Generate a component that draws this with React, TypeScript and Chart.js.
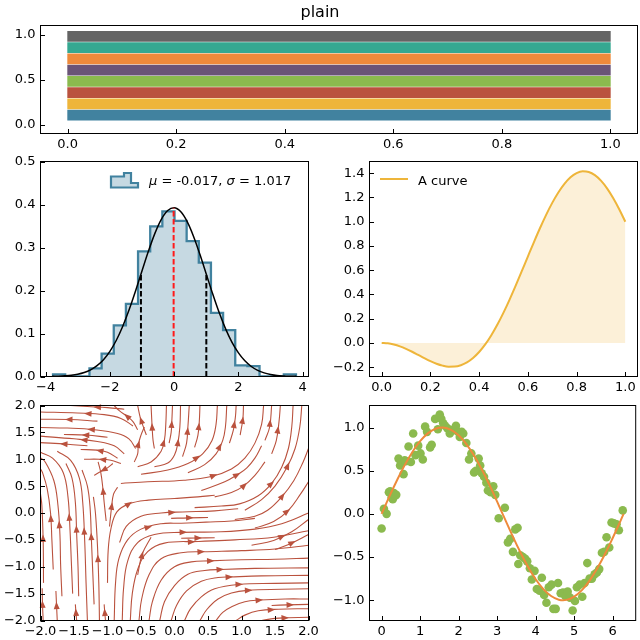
import React, { useEffect, useRef } from "react";
import { Chart, registerables } from "chart.js";

Chart.register(...registerables);

const FONT_FAMILY = "'DejaVu Sans', 'Liberation Sans', sans-serif";
const TEXT = "#000000";
const CANVAS = 640;
const Y_AXIS_W = 40;
const X_AXIS_H = 20;
const TICK_LEN = 4.5;

// colour cycle of the style
const BLUE = "#41829F";
const YELLOW = "#EEB53A";
const RED = "#BA523E";
const GREEN = "#8BBA4E";
const PURPLE = "#6A5477";
const ORANGE = "#EE8A3B";
const TEAL = "#35A891";
const GRAY = "#646464";

// ---- colour bars ----
const BAR_COLORS = [BLUE, YELLOW, RED, GREEN, PURPLE, ORANGE, TEAL, GRAY];
const BAR_POSITIONS = [0.105, 0.23, 0.355, 0.48, 0.605, 0.73, 0.855, 0.98];
const BAR_START = 0;
const BAR_END = 1;
const BAR_X_TICKS = [0, 0.2, 0.4, 0.6, 0.8, 1.0];
const BAR_Y_TICKS = [0, 0.5, 1.0];

// ---- histogram ----
const HIST_EDGES = [-3.77, -3.392, -3.014, -2.636, -2.258, -1.88, -1.502, -1.124, -0.746, -0.368, 0.01,
  0.388, 0.766, 1.144, 1.522, 1.9, 2.278, 2.656, 3.034, 3.412, 3.79];
const HIST_DENSITY = [0.005, 0, 0, 0.019, 0.053, 0.119, 0.169, 0.291, 0.349, 0.384, 0.362,
  0.315, 0.265, 0.148, 0.108, 0.026, 0.024, 0, 0, 0.005];
const MU = -0.017;
const SIGMA = 1.017;
const PDF_X = [-3.8, -3.6, -3.4, -3.2, -3.0, -2.8, -2.6, -2.4, -2.2, -2.0, -1.8, -1.6, -1.4, -1.2, -1.0,
  -0.8, -0.6, -0.4, -0.2, 0.0, 0.2, 0.4, 0.6, 0.8, 1.0, 1.2, 1.4, 1.6, 1.8, 2.0, 2.2, 2.4, 2.6, 2.8,
  3.0, 3.2, 3.4, 3.6, 3.8];
const PDF_Y = [0.0004, 0.0008, 0.0016, 0.0029, 0.0053, 0.0093, 0.0156, 0.0252, 0.0392, 0.0586, 0.0843,
  0.1168, 0.1556, 0.1994, 0.2459, 0.2917, 0.3329, 0.3655, 0.386, 0.3922, 0.3835, 0.3607, 0.3264, 0.2841,
  0.2379, 0.1917, 0.1486, 0.1108, 0.0795, 0.0549, 0.0365, 0.0233, 0.0143, 0.0085, 0.0048, 0.0023,
  0.0012, 0.0006, 0.0003];
const GUIDE_X = [MU - SIGMA, MU, MU + SIGMA];
const GUIDE_TOP = [0.2379, 0.3922, 0.2379];
const GUIDE_COLORS = ["#000000", "#FF1A1A", "#000000"];
const HIST_X_TICKS = [-4, -2, 0, 2, 4];
const HIST_Y_TICKS = [0, 0.1, 0.2, 0.3, 0.4, 0.5];

// ---- filled curve ----
const CURVE_X = [0, 0.025, 0.05, 0.075, 0.1, 0.125, 0.15, 0.175, 0.2, 0.225, 0.25, 0.275, 0.3, 0.325,
  0.35, 0.375, 0.4, 0.425, 0.45, 0.475, 0.5, 0.525, 0.55, 0.575, 0.6, 0.625, 0.65, 0.675, 0.7, 0.725,
  0.75, 0.775, 0.8, 0.825, 0.85, 0.875, 0.9, 0.925, 0.95, 0.975, 1.0];
const CURVE_Y = [0, -0.0033, -0.013, -0.0284, -0.0488, -0.0728, -0.0989, -0.1253, -0.1502, -0.1716,
  -0.1875, -0.196, -0.1953, -0.184, -0.1607, -0.1245, -0.0751, -0.0123, 0.0634, 0.1513, 0.25, 0.3577,
  0.4725, 0.5917, 0.7127, 0.8326, 0.9484, 1.0571, 1.1557, 1.2417, 1.3125, 1.3661, 1.4009, 1.4157,
  1.4102, 1.3843, 1.339, 1.2756, 1.1961, 1.1031, 1.0];
const CURVE_X_TICKS = [0, 0.2, 0.4, 0.6, 0.8, 1.0];
const CURVE_Y_TICKS = [-0.2, 0, 0.2, 0.4, 0.6, 0.8, 1.0, 1.2, 1.4];

// ---- stream lines (each listed along the flow direction) ----
const STREAMLINES: [number, number][][] = [
  // upper left, running to the left
  [[-0.75, 1.93], [-1.0, 1.96], [-1.3, 1.98], [-1.55, 2.0]],
  [[-0.62, 1.62], [-0.8, 1.76], [-1.05, 1.83], [-1.45, 1.86], [-2.0, 1.88]],
  [[-1.15, 1.71], [-1.57, 1.74], [-2.0, 1.745]],
  [[-0.58, 1.2], [-0.68, 1.38], [-0.85, 1.48], [-1.2, 1.55], [-1.6, 1.58], [-2.0, 1.59]],
  [[-1.0, 1.41], [-1.32, 1.45], [-1.65, 1.46]],
  [[-0.75, 1.1], [-0.9, 1.25], [-1.15, 1.33], [-1.5, 1.38], [-2.0, 1.43]],
  [[-1.3, 1.25], [-1.6, 1.28], [-2.0, 1.31]],
  [[-0.85, 1.02], [-1.0, 1.13], [-1.16, 1.17], [-1.4, 1.18]],
  [[-0.8, 0.92], [-0.95, 0.98], [-1.12, 1.0], [-1.35, 1.0]],
  [[-0.92, 0.92], [-1.0, 0.84], [-1.09, 0.78], [-1.2, 0.7]],
  // left side, rising and leaning left
  [[-1.96, -2.0], [-1.97, -1.7], [-1.975, -1.4]],
  [[-1.955, -1.3], [-1.96, -0.53], [-1.98, 0.15], [-2.0, 0.35]],
  [[-1.81, -1.05], [-1.83, -0.5], [-1.85, 0.0], [-1.9, 0.45], [-1.97, 0.75], [-2.0, 0.82]],
  [[-1.75, -2.0], [-1.76, -1.73], [-1.77, -1.45]],
  [[-1.68, -1.55], [-1.7, -0.95], [-1.71, -0.4], [-1.74, 0.15], [-1.8, 0.6], [-1.93, 0.95], [-2.0, 1.03]],
  [[-1.52, -1.5], [-1.54, -0.9], [-1.56, -0.3], [-1.59, 0.3], [-1.66, 0.75], [-1.82, 1.02], [-2.0, 1.13]],
  [[-1.46, -2.0], [-1.47, -1.86], [-1.48, -1.7]],
  [[-1.43, -1.55], [-1.44, -1.0], [-1.46, -0.4], [-1.48, 0.2], [-1.53, 0.65], [-1.62, 0.92]],
  [[-1.3, -2.0], [-1.32, -1.3], [-1.34, -0.53], [-1.37, 0.2], [-1.42, 0.65], [-1.55, 0.98], [-1.75, 1.15]],
  [[-1.2, -1.7], [-1.22, -1.1], [-1.24, -0.5], [-1.26, 0.1], [-1.3, 0.5], [-1.38, 0.8]],
  [[-1.12, -2.0], [-1.13, -1.3], [-1.15, -0.6], [-1.18, 0.0], [-1.21, 0.3]],
  [[-1.03, -2.0], [-1.04, -1.86], [-1.05, -1.7]],
  [[-1.02, -0.15], [-1.05, 0.2], [-1.07, 0.47], [-1.1, 0.75], [-1.14, 0.95]],
  // centre left, rising then turning right
  [[-0.97, -0.25], [-0.94, 0.1], [-0.91, 0.35], [-0.85, 0.48]],
  [[-1.0, -1.3], [-0.99, -0.7], [-0.95, -0.3], [-0.86, 0.02], [-0.68, 0.17], [-0.39, 0.24], [0.0, 0.27],
    [0.35, 0.3], [0.6, 0.33]],
  [[-0.82, -0.55], [-0.72, -0.25], [-0.5, -0.06], [-0.2, 0.0], [0.12, 0.02], [0.6, 0.04], [0.95, 0.08]],
  [[-0.05, -0.1], [0.21, -0.09], [0.5, -0.085]],
  // from the bottom edge, sweeping over to the right edge
  [[-0.9, -2.0], [-0.88, -1.3], [-0.83, -0.85], [-0.7, -0.5], [-0.5, -0.3], [-0.2, -0.2], [0.1, -0.19],
    [0.47, -0.17], [0.85, -0.15], [1.2, -0.1]],
  [[-0.78, -2.0], [-0.76, -1.4], [-0.7, -0.9], [-0.55, -0.55], [-0.3, -0.4], [0.1, -0.36], [0.69, -0.35],
    [1.2, -0.3], [1.6, -0.2], [2.0, 0.0]],
  [[-0.66, -2.0], [-0.63, -1.5], [-0.55, -1.05], [-0.4, -0.72], [-0.15, -0.56], [0.36, -0.53], [0.9, -0.5],
    [1.48, -0.45], [2.0, -0.33]],
  [[-0.53, -2.0], [-0.49, -1.6], [-0.38, -1.15], [-0.2, -0.85], [0.1, -0.74], [0.43, -0.72], [1.0, -0.7],
    [1.5, -0.67], [2.0, -0.6]],
  [[-0.38, -2.0], [-0.33, -1.65], [-0.2, -1.25], [0.0, -1.0], [0.25, -0.91], [0.52, -0.89], [1.0, -0.87],
    [1.5, -0.86], [2.0, -0.84]],
  [[-0.22, -2.0], [-0.15, -1.65], [0.0, -1.35], [0.2, -1.14], [0.45, -1.07], [0.69, -1.05], [1.2, -1.03],
    [2.0, -1.02]],
  [[-0.05, -2.0], [0.03, -1.72], [0.18, -1.45], [0.4, -1.27], [0.65, -1.2], [0.83, -1.19], [1.3, -1.17],
    [2.0, -1.16]],
  [[0.15, -2.0], [0.24, -1.78], [0.4, -1.56], [0.6, -1.41], [0.96, -1.33], [1.5, -1.31], [2.0, -1.3]],
  [[0.38, -2.0], [0.48, -1.8], [0.65, -1.6], [0.85, -1.49], [1.09, -1.44], [1.6, -1.42], [2.0, -1.41]],
  [[0.62, -2.0], [0.72, -1.85], [0.86, -1.74], [1.05, -1.65], [1.28, -1.62], [1.65, -1.6], [2.0, -1.6]],
  [[0.92, -2.0], [1.05, -1.9], [1.25, -1.82], [1.55, -1.79], [2.0, -1.78]],
  [[1.45, -1.72], [1.68, -1.71], [2.0, -1.7]],
  [[1.3, -2.0], [1.5, -1.96], [1.7, -1.95], [2.0, -1.94]],
  [[0.1, -0.47], [0.32, -0.465], [0.6, -0.46]],
  [[-0.55, -1.15], [-0.48, -0.76], [-0.35, -0.45]],
  // upper right, bending upwards
  [[-0.8, 0.55], [-0.4, 0.58], [0.14, 0.61], [0.55, 0.68], [0.85, 0.82], [1.05, 1.02], [1.2, 1.3],
    [1.3, 1.65], [1.33, 2.0]],
  [[-0.5, 0.72], [-0.1, 0.8], [0.2, 0.92], [0.42, 1.1], [0.56, 1.35], [0.62, 1.65], [0.64, 2.0]],
  [[-0.55, 0.86], [-0.35, 0.95], [-0.2, 1.15], [-0.15, 1.36], [-0.13, 1.65], [-0.12, 2.0]],
  [[-0.3, 0.86], [-0.1, 0.93], [0.0, 1.08], [0.05, 1.3], [0.08, 1.6], [0.09, 2.0]],
  [[-0.08, 1.3], [-0.05, 1.5], [-0.04, 1.7], [-0.03, 2.0]],
  [[0.12, 1.05], [0.18, 1.3], [0.2, 1.6], [0.22, 2.0]],
  [[0.3, 1.22], [0.35, 1.45], [0.37, 1.7], [0.38, 2.0]],
  [[0.2, 0.75], [0.45, 0.9], [0.62, 1.1], [0.72, 1.35], [0.76, 1.6], [0.78, 2.0]],
  [[0.82, 1.3], [0.88, 1.55], [0.91, 1.8], [0.92, 2.0]],
  [[0.4, 0.42], [0.75, 0.58], [0.95, 0.72], [1.08, 0.84], [1.2, 1.02], [1.3, 1.25]],
  [[0.98, 1.45], [1.02, 1.75], [1.03, 2.0]],
  [[1.35, 1.35], [1.42, 1.6], [1.45, 2.0]],
  [[1.45, 1.1], [1.52, 1.35], [1.56, 1.7], [1.58, 2.0]],
  [[0.3, 0.1], [0.7, 0.13], [0.97, 0.17], [1.25, 0.32], [1.45, 0.55], [1.6, 0.85], [1.7, 1.2], [1.75, 1.6],
    [1.77, 2.0]],
  [[0.6, 0.3], [0.85, 0.38], [1.03, 0.5], [1.2, 0.7], [1.35, 0.95]],
  [[1.05, 0.05], [1.3, 0.25], [1.5, 0.5], [1.68, 0.85], [1.8, 1.2], [1.87, 1.6], [1.9, 2.0]],
  [[0.9, -0.12], [1.2, -0.06], [1.39, 0.05], [1.6, 0.3], [1.78, 0.6], [1.92, 0.95], [2.0, 1.2]],
  [[1.2, -0.28], [1.48, -0.16], [1.7, 0.05], [1.88, 0.35], [2.0, 0.58]],
  [[1.15, -0.6], [1.48, -0.51], [1.75, -0.35], [2.0, -0.12]],
  [[1.5, -0.68], [1.73, -0.57], [2.0, -0.4]],
  // top middle
  [[-0.55, 1.55], [-0.62, 1.7], [-0.72, 1.81], [-0.82, 1.9], [-0.9, 2.0]],
  [[-0.42, 1.45], [-0.47, 1.62], [-0.51, 1.77], [-0.55, 2.0]],
  [[-0.3, 1.2], [-0.32, 1.35], [-0.33, 1.51], [-0.34, 1.75], [-0.35, 2.0]],
  [[-0.6, 0.95], [-0.55, 1.1], [-0.54, 1.27], [-0.5, 1.45], [-0.45, 1.6]],
];
const STREAM_TICKS = [-2, -1.5, -1, -0.5, 0, 0.5, 1, 1.5, 2];

// ---- noisy sine ----
const SCATTER_X = [0.0, 0.06, 0.13, 0.19, 0.22, 0.26, 0.29, 0.32, 0.35, 0.38, 0.44, 0.48, 0.51, 0.57, 0.6,
  0.63, 0.7, 0.76, 0.82, 0.88, 0.95, 1.01, 1.07, 1.13, 1.18, 1.26, 1.3, 1.39, 1.46, 1.51, 1.55, 1.6, 1.65,
  1.71, 1.77, 1.83, 1.89, 1.93, 1.99, 2.03, 2.08, 2.12, 2.2, 2.27, 2.33, 2.4, 2.45, 2.52, 2.56, 2.6, 2.66,
  2.72, 2.76, 2.83, 2.9, 2.95, 3.04, 3.2, 3.28, 3.34, 3.41, 3.47, 3.53, 3.55, 3.6, 3.67, 3.73, 3.78, 3.85,
  3.9, 3.97, 4.03, 4.1, 4.16, 4.22, 4.28, 4.34, 4.41, 4.46, 4.52, 4.58, 4.65, 4.71, 4.77, 4.83, 4.89, 4.96,
  5.02, 5.07, 5.14, 5.21, 5.27, 5.34, 5.4, 5.46, 5.53, 5.59, 5.65, 5.72, 5.78, 5.84, 5.91, 5.97, 6.03, 6.1,
  6.16, 6.26];
const SCATTER_Y = [-0.17, 0.06, 0.0, 0.25, 0.26, 0.19, 0.17, 0.24, 0.21, 0.22, 0.64, 0.56, 0.6, 0.46, 0.62,
  0.61, 0.78, 0.6, 0.93, 0.68, 0.79, 0.7, 0.63, 1.01, 0.95, 0.77, 0.8, 1.1, 0.98, 1.15, 1.1, 1.05, 1.02,
  0.99, 0.93, 0.97, 0.97, 1.02, 0.95, 0.89, 0.95, 0.93, 0.82, 0.63, 0.7, 0.48, 0.5, 0.64, 0.56, 0.47, 0.43,
  0.36, 0.27, 0.25, 0.32, 0.22, -0.05, 0.07, -0.33, -0.29, -0.44, -0.18, -0.16, -0.58, -0.48, -0.5, -0.52,
  -0.55, -0.63, -0.76, -0.66, -0.87, -0.89, -0.74, -0.94, -1.03, -0.85, -0.82, -1.1, -1.1, -0.8, -0.92,
  -0.91, -0.95, -0.9, -0.97, -1.12, -1.01, -0.85, -0.82, -0.96, -0.8, -0.57, -0.75, -0.75, -0.7, -0.68,
  -0.64, -0.45, -0.44, -0.27, -0.39, -0.1, -0.11, -0.12, -0.19, 0.04];
const SINE_X = [0, 0.2, 0.4, 0.6, 0.8, 1.0, 1.2, 1.4, 1.6, 1.8, 2.0, 2.2, 2.4, 2.6, 2.8, 3.0, 3.2, 3.4,
  3.6, 3.8, 4.0, 4.2, 4.4, 4.6, 4.8, 5.0, 5.2, 5.4, 5.6, 5.8, 6.0, 6.2, 6.283];
const SINE_Y = [0, 0.1987, 0.3894, 0.5646, 0.7174, 0.8415, 0.932, 0.9854, 0.9996, 0.9738, 0.9093, 0.8085,
  0.6755, 0.5155, 0.335, 0.1411, -0.0584, -0.2555, -0.4425, -0.6119, -0.7568, -0.8716, -0.9516, -0.9937,
  -0.9962, -0.9589, -0.8835, -0.7728, -0.6313, -0.4646, -0.2794, -0.0831, 0];
const SINE_X_TICKS = [0, 1, 2, 3, 4, 5, 6];
const SINE_Y_TICKS = [-1, -0.5, 0, 0.5, 1];

// ---- layout ----
type Box = { l: number; t: number; r: number; b: number };
type Axis = { min: number; max: number; ticks: number[]; digits: number };

const BOX_BARS: Box = { l: 40.5, t: 25.5, r: 637.5, b: 133.5 };
const BOX_HIST: Box = { l: 40.5, t: 161.5, r: 308.5, b: 376.5 };
const BOX_CURVE: Box = { l: 369.5, t: 161.5, r: 637.5, b: 376.5 };
const BOX_STREAM: Box = { l: 40.5, t: 405.5, r: 308.5, b: 620.5 };
const BOX_SINE: Box = { l: 369.5, t: 405.5, r: 637.5, b: 620.5 };

const font = (size: number, style = "normal") => ({ family: FONT_FAMILY, size, style });

function formatTick(v: number, digits: number) {
  const n = Math.abs(v) < 1e-9 ? 0 : v;
  return n.toFixed(digits).replace("-", "\u2212");
}

function scaleOptions(a: Axis, dir: "x" | "y") {
  return {
    type: "linear",
    position: dir === "x" ? "bottom" : "left",
    min: a.min,
    max: a.max,
    offset: false,
    grid: { display: false, drawTicks: false },
    border: { display: false },
    afterBuildTicks: (s: any) => {
      s.ticks = a.ticks.map((value) => ({ value }));
    },
    afterFit: (s: any) => {
      if (dir === "x") s.height = X_AXIS_H;
      else s.width = Y_AXIS_W;
    },
    ticks: {
      font: font(13),
      color: TEXT,
      padding: dir === "x" ? 3 : 5,
      maxRotation: 0,
      minRotation: 0,
      autoSkip: false,
      callback: (v: number) => formatTick(Number(v), a.digits),
    },
  };
}

function panelOptions(box: Box, xa: Axis, ya: Axis, extra: Record<string, unknown> = {}) {
  return {
    responsive: false,
    maintainAspectRatio: false,
    animation: false,
    events: [],
    layout: {
      padding: {
        left: box.l - Y_AXIS_W,
        top: box.t,
        right: CANVAS - box.r,
        bottom: CANVAS - box.b - X_AXIS_H,
      },
    },
    plugins: { legend: { display: false }, tooltip: { enabled: false }, title: { display: false } },
    scales: { x: scaleOptions(xa, "x"), y: scaleOptions(ya, "y") },
    ...extra,
  };
}

// axes frame with inward ticks on the left and bottom spines
const framePlugin = {
  id: "frame",
  afterDraw(chart: any) {
    const { ctx, chartArea: a, scales } = chart;
    ctx.save();
    ctx.strokeStyle = "#000";
    ctx.lineWidth = 1;
    ctx.strokeRect(a.left, a.top, a.right - a.left, a.bottom - a.top);
    ctx.beginPath();
    for (const t of scales.x.ticks) {
      const p = Math.round(scales.x.getPixelForValue(t.value)) + 0.5;
      ctx.moveTo(p, a.bottom);
      ctx.lineTo(p, a.bottom - TICK_LEN);
    }
    for (const t of scales.y.ticks) {
      const p = Math.round(scales.y.getPixelForValue(t.value)) + 0.5;
      ctx.moveTo(a.left, p);
      ctx.lineTo(a.left + TICK_LEN, p);
    }
    ctx.stroke();
    ctx.restore();
  },
};

const titlePlugin = {
  id: "figTitle",
  afterDraw(chart: any) {
    const ctx = chart.ctx;
    ctx.save();
    ctx.font = `16px ${FONT_FAMILY}`;
    ctx.fillStyle = TEXT;
    ctx.textAlign = "center";
    ctx.textBaseline = "alphabetic";
    ctx.fillText("plain", CANVAS / 2, 17);
    ctx.restore();
  },
};

const histLegendPlugin = {
  id: "histLegend",
  afterDraw(chart: any) {
    const { ctx, chartArea: a } = chart;
    const x0 = a.left + 70.5;
    const yb = a.top + 26;
    ctx.save();
    ctx.beginPath();
    ctx.moveTo(x0, yb);
    ctx.lineTo(x0, yb - 11);
    ctx.lineTo(x0 + 13, yb - 11);
    ctx.lineTo(x0 + 13, yb - 14.5);
    ctx.lineTo(x0 + 20, yb - 14.5);
    ctx.lineTo(x0 + 20, yb - 4.5);
    ctx.lineTo(x0 + 27, yb - 4.5);
    ctx.lineTo(x0 + 27, yb);
    ctx.closePath();
    ctx.fillStyle = "rgba(65,130,159,0.3)";
    ctx.fill();
    ctx.strokeStyle = BLUE;
    ctx.lineWidth = 2.2;
    ctx.lineJoin = "miter";
    ctx.stroke();
    ctx.fillStyle = TEXT;
    ctx.textBaseline = "alphabetic";
    ctx.textAlign = "left";
    let x = a.left + 108.5;
    const y = a.top + 23;
    const parts: [string, boolean][] = [
      ["\u03bc", true],
      [` = ${MU.toFixed(3)}, `, false],
      ["\u03c3", true],
      [` = ${SIGMA.toFixed(3)}`, false],
    ];
    for (const [s, it] of parts) {
      ctx.font = `${it ? "italic " : ""}13px ${FONT_FAMILY}`;
      ctx.fillText(s, x, y);
      x += ctx.measureText(s).width;
    }
    ctx.restore();
  },
};

const curveLegendPlugin = {
  id: "curveLegend",
  afterDraw(chart: any) {
    const { ctx, chartArea: a } = chart;
    ctx.save();
    ctx.strokeStyle = YELLOW;
    ctx.lineWidth = 2;
    ctx.beginPath();
    ctx.moveTo(a.left + 10.5, a.top + 17.5);
    ctx.lineTo(a.left + 38.5, a.top + 17.5);
    ctx.stroke();
    ctx.fillStyle = TEXT;
    ctx.font = `13px ${FONT_FAMILY}`;
    ctx.textBaseline = "alphabetic";
    ctx.fillText("A curve", a.left + 48.5, a.top + 23);
    ctx.restore();
  },
};

// arrow head half-way along each stream line
const streamArrowPlugin = {
  id: "streamArrows",
  afterDatasetsDraw(chart: any) {
    const ctx = chart.ctx;
    ctx.save();
    ctx.fillStyle = RED;
    chart.data.datasets.forEach((_: unknown, i: number) => {
      const pts = chart.getDatasetMeta(i).data;
      if (pts.length < 2) return;
      const seg: number[] = [];
      let total = 0;
      for (let k = 1; k < pts.length; k++) {
        const d = Math.hypot(pts[k].x - pts[k - 1].x, pts[k].y - pts[k - 1].y);
        seg.push(d);
        total += d;
      }
      let rest = total / 2;
      let k = 0;
      while (k < seg.length - 1 && rest > seg[k]) {
        rest -= seg[k];
        k++;
      }
      const p = pts[k];
      const q = pts[k + 1];
      const t = seg[k] ? rest / seg[k] : 0;
      const px = p.x + (q.x - p.x) * t;
      const py = p.y + (q.y - p.y) * t;
      const ang = Math.atan2(q.y - p.y, q.x - p.x);
      ctx.save();
      ctx.translate(px, py);
      ctx.rotate(ang);
      ctx.beginPath();
      ctx.moveTo(4, 0);
      ctx.lineTo(-3.5, -3);
      ctx.lineTo(-3.5, 3);
      ctx.closePath();
      ctx.fill();
      ctx.restore();
    });
    ctx.restore();
  },
};

function barsConfig() {
  return {
    type: "bar",
    data: {
      datasets: [
        {
          data: BAR_POSITIONS.map((y) => ({ y, x: [BAR_START, BAR_END] })),
          backgroundColor: BAR_COLORS,
          borderWidth: 0,
          barThickness: 10,
        },
      ],
    },
    options: panelOptions(
      BOX_BARS,
      { min: -0.05, max: 1.05, ticks: BAR_X_TICKS, digits: 1 },
      { min: -0.1, max: 1.1, ticks: BAR_Y_TICKS, digits: 1 },
      { indexAxis: "y" }
    ),
    plugins: [framePlugin, titlePlugin],
  };
}

function histConfig() {
  const step = [{ x: HIST_EDGES[0], y: 0 }];
  HIST_DENSITY.forEach((h, i) => step.push({ x: HIST_EDGES[i], y: h }));
  step.push({ x: HIST_EDGES[HIST_EDGES.length - 1], y: 0 });
  const guides = GUIDE_X.map((x, i) => ({
    data: [{ x, y: 0 }, { x, y: GUIDE_TOP[i] }],
    borderColor: GUIDE_COLORS[i],
    borderWidth: 2,
    borderDash: [5.5, 2.5],
    pointRadius: 0,
    fill: false,
    order: 0,
  }));
  return {
    type: "line",
    data: {
      datasets: [
        ...guides,
        {
          data: PDF_X.map((x, i) => ({ x, y: PDF_Y[i] })),
          borderColor: "#000",
          borderWidth: 1.5,
          pointRadius: 0,
          cubicInterpolationMode: "monotone",
          fill: false,
          order: 1,
        },
        {
          data: step,
          stepped: true,
          borderColor: BLUE,
          borderWidth: 2.3,
          backgroundColor: "rgba(65,130,159,0.3)",
          fill: "origin",
          pointRadius: 0,
          order: 2,
        },
      ],
    },
    options: panelOptions(
      BOX_HIST,
      { min: -4.16, max: 4.18, ticks: HIST_X_TICKS, digits: 0 },
      { min: 0, max: 0.5, ticks: HIST_Y_TICKS, digits: 1 }
    ),
    plugins: [framePlugin, histLegendPlugin],
  };
}

function curveConfig() {
  return {
    type: "line",
    data: {
      datasets: [
        {
          data: CURVE_X.map((x, i) => ({ x, y: CURVE_Y[i] })),
          borderColor: YELLOW,
          borderWidth: 2,
          backgroundColor: "rgba(238,181,58,0.2)",
          fill: "origin",
          pointRadius: 0,
          cubicInterpolationMode: "monotone",
        },
      ],
    },
    options: panelOptions(
      BOX_CURVE,
      { min: -0.05, max: 1.05, ticks: CURVE_X_TICKS, digits: 1 },
      { min: -0.277, max: 1.497, ticks: CURVE_Y_TICKS, digits: 1 }
    ),
    plugins: [framePlugin, curveLegendPlugin],
  };
}

function streamConfig() {
  return {
    type: "line",
    data: {
      datasets: STREAMLINES.map((line) => ({
        data: line.map(([x, y]) => ({ x, y })),
        borderColor: RED,
        borderWidth: 1.1,
        pointRadius: 0,
        tension: 0.4,
        fill: false,
      })),
    },
    options: panelOptions(
      BOX_STREAM,
      { min: -2, max: 2, ticks: STREAM_TICKS, digits: 1 },
      { min: -2, max: 2, ticks: STREAM_TICKS, digits: 1 }
    ),
    plugins: [framePlugin, streamArrowPlugin],
  };
}

function sineConfig() {
  return {
    type: "scatter",
    data: {
      datasets: [
        {
          type: "line",
          data: SINE_X.map((x, i) => ({ x, y: SINE_Y[i] })),
          borderColor: ORANGE,
          borderWidth: 2,
          pointRadius: 0,
          tension: 0.4,
          fill: false,
          order: 0,
        },
        {
          data: SCATTER_X.map((x, i) => ({ x, y: SCATTER_Y[i] })),
          backgroundColor: GREEN,
          borderWidth: 0,
          pointRadius: 4.3,
          order: 1,
        },
      ],
    },
    options: panelOptions(
      BOX_SINE,
      { min: -0.314, max: 6.597, ticks: SINE_X_TICKS, digits: 0 },
      { min: -1.235, max: 1.255, ticks: SINE_Y_TICKS, digits: 1 }
    ),
    plugins: [framePlugin],
  };
}

function ChartLayer({ build }: { build: () => any }) {
  const ref = useRef<HTMLCanvasElement>(null);
  useEffect(() => {
    const chart = new Chart(ref.current as HTMLCanvasElement, build());
    return () => chart.destroy();
  }, [build]);
  return (
    <canvas
      ref={ref}
      width={CANVAS}
      height={CANVAS}
      style={{ position: "absolute", left: 0, top: 0, width: CANVAS, height: CANVAS }}
    />
  );
}

export default function App() {
  return (
    <div
      style={{
        position: "absolute",
        left: 0,
        top: 0,
        width: CANVAS,
        height: CANVAS,
        background: "#ffffff",
        overflow: "hidden",
      }}
    >
      <ChartLayer build={barsConfig} />
      <ChartLayer build={histConfig} />
      <ChartLayer build={curveConfig} />
      <ChartLayer build={streamConfig} />
      <ChartLayer build={sineConfig} />
    </div>
  );
}
